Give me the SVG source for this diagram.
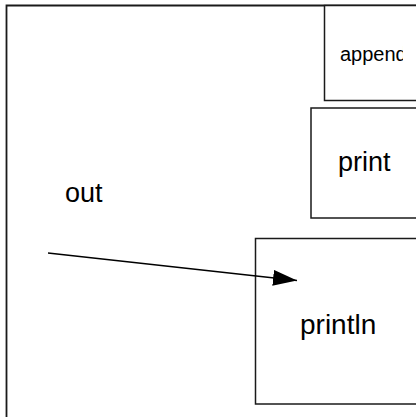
<svg xmlns="http://www.w3.org/2000/svg" width="416" height="417" viewBox="0 0 416 417">
<style>
.box{fill:#fff;stroke:#1a1a1a;stroke-width:1.5}
.lbl{font-family:"Liberation Sans",Arial,sans-serif;fill:#000}
</style>
<defs>
<marker id="ah" markerWidth="24" markerHeight="16" refX="24" refY="8" orient="auto" markerUnits="userSpaceOnUse">
<path d="M0,0 L24,8 L0,16 Z" fill="#000"/>
</marker>
<clipPath id="cA"><rect x="325" y="5" width="78" height="95"/></clipPath>
</defs>
<rect width="416" height="417" fill="#fff"/>
<g id="outer">
<path d="M6.5,420 L6.5,5.5 L420,5.5" fill="none" stroke="#1a1a1a" stroke-width="1.8"/>
<text class="lbl" x="65" y="202" font-size="27">out</text>
</g>
<g id="append">
<rect class="box" x="324.5" y="5.5" width="100" height="95"/>
<text class="lbl" x="340" y="61" font-size="20" clip-path="url(#cA)">append</text>
</g>
<g id="print">
<rect class="box" x="311" y="108" width="110" height="110"/>
<text class="lbl" x="338" y="171" font-size="27">print</text>
</g>
<g id="println">
<rect class="box" x="255.5" y="238.5" width="170" height="165.5"/>
<text class="lbl" x="300" y="334" font-size="28">println</text>
</g>
<g id="connectors">
<line x1="48" y1="253" x2="297" y2="280.5" stroke="#000" stroke-width="1.3" marker-end="url(#ah)"/>
</g>
</svg>
